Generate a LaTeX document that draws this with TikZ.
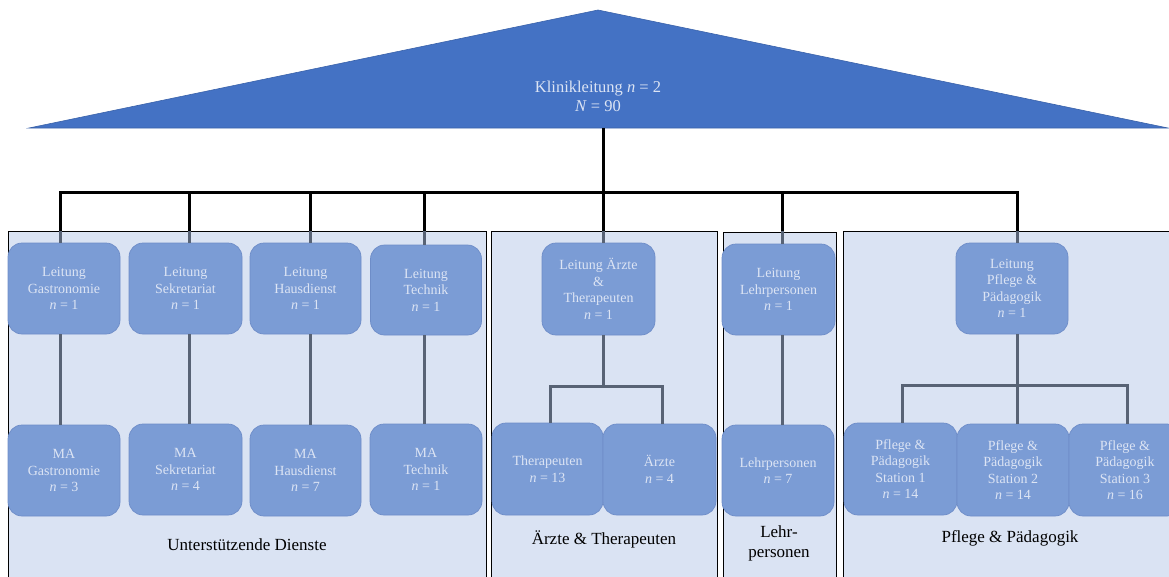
\documentclass[tikz,border=0pt]{standalone}
\usepackage{fontspec}
\setmainfont{Liberation Serif}
\definecolor{topfill}{HTML}{4472C4}
\definecolor{topline}{HTML}{3A62AA}
\definecolor{grpfill}{HTML}{DAE3F3}
\definecolor{boxfill}{HTML}{7B9CD5}
\definecolor{boxline}{HTML}{6E8DC8}
\definecolor{boxtext}{HTML}{DCE4F4}
\definecolor{linkgray}{HTML}{586375}
\newcommand{\nn}{\textit{n}}
\begin{document}
\begin{tikzpicture}[x=1pt,y=-1pt,
  group/.style={draw=black,fill=grpfill,line width=0.8pt},
  unit/.style={draw=boxline,fill=boxfill,rounded corners=14pt,text=boxtext,
    align=center,inner sep=0pt,line width=0.7pt,
    font=\fontsize{14}{16.5}\selectfont},
  grplabel/.style={align=center,font=\fontsize{17}{20}\selectfont},
  mainlink/.style={draw=black,line width=3pt},
  sublink/.style={draw=linkgray,line width=3pt}]
\useasboundingbox (0,0) rectangle (1169,576);

% head of the clinic
\fill[topfill,draw=topline,line width=0.6pt] (29,128) -- (598,10) -- (1168,128) -- cycle;
\node[text=boxtext,align=center,font=\fontsize{16.5}{19}\selectfont] (head) at (598,96)
  {Klinikleitung \nn{} = 2\\\textit{N} = 90};
\coordinate (headbase) at (603,128);

% department frames
\path[group] (8,231) rectangle (486,590);
\path[group] (491,231) rectangle (717,590);
\path[group] (723,232) rectangle (836,590);
\path[group] (843,231) rectangle (1175,590);
\coordinate (g1) at (0,231);

% first row: department heads
\node[unit,minimum width=112pt,minimum height=91pt] (lg) at (64,288.5) {Leitung\\Gastronomie\\\nn{} = 1};
\node[unit,minimum width=113pt,minimum height=91pt] (ls) at (185.5,288.5) {Leitung\\Sekretariat\\\nn{} = 1};
\node[unit,minimum width=111pt,minimum height=91pt] (lh) at (305.5,288.5) {Leitung\\Hausdienst\\\nn{} = 1};
\node[unit,minimum width=111pt,minimum height=90pt] (lt) at (426,290) {Leitung\\Technik\\\nn{} = 1};
\node[unit,minimum width=113pt,minimum height=92pt] (la) at (598.5,289) {Leitung Ärzte\\\&\\Therapeuten\\\nn{} = 1};
\node[unit,minimum width=113pt,minimum height=91pt] (ll) at (778.5,289.5) {Leitung\\Lehrpersonen\\\nn{} = 1};
\node[unit,minimum width=112pt,minimum height=91pt] (lp) at (1012,288.5) {Leitung\\Pflege \&\\Pädagogik\\\nn{} = 1};

% second row: staff
\node[unit,minimum width=112pt,minimum height=91pt] (mg) at (64,470.5) {MA\\Gastronomie\\\nn{} = 3};
\node[unit,minimum width=113pt,minimum height=91pt] (ms) at (185.5,469.5) {MA\\Sekretariat\\\nn{} = 4};
\node[unit,minimum width=111pt,minimum height=91pt] (mh) at (305.5,470.5) {MA\\Hausdienst\\\nn{} = 7};
\node[unit,minimum width=112pt,minimum height=91pt] (mt) at (426,469.5) {MA\\Technik\\\nn{} = 1};
\node[unit,minimum width=111pt,minimum height=92pt] (th) at (547.5,469) {Therapeuten\\\nn{} = 13};
\node[unit,minimum width=113pt,minimum height=91pt] (ae) at (659.5,469.5) {Ärzte\\\nn{} = 4};
\node[unit,minimum width=112pt,minimum height=91pt] (lr) at (778,470.5) {Lehrpersonen\\\nn{} = 7};
\node[unit,minimum width=113pt,minimum height=92pt] (p1) at (900.5,469) {Pflege \&\\Pädagogik\\Station 1\\\nn{} = 14};
\node[unit,minimum width=112pt,minimum height=92pt] (p2) at (1013,470) {Pflege \&\\Pädagogik\\Station 2\\\nn{} = 14};
\node[unit,minimum width=112pt,minimum height=92pt] (p3) at (1125,470) {Pflege \&\\Pädagogik\\Station 3\\\nn{} = 16};

% department captions
\node[grplabel] (cap1) at (247,545) {Unterstützende Dienste};
\node[grplabel] (cap2) at (604,539) {Ärzte \& Therapeuten};
\node[grplabel] (cap3) at (779,543) {Lehr-\\personen};
\node[grplabel] (cap4) at (1010,538) {Pflege \& Pädagogik};

% top level connectors
\coordinate (bar) at (0,192);
\draw[mainlink] (headbase) -- (bar -| headbase);
\draw[mainlink,line cap=rect] (bar -| 60,0) -- (bar -| 1017,0);
\foreach \n/\x in {lg/60,ls/189,lh/310,lt/424,la/603,ll/782,lp/1017}{
  \draw[mainlink] (bar -| \x,0) -- (g1 -| \x,0);
  \draw[sublink] (g1 -| \x,0) -- (\n.north -| \x,0);
}

% connectors within the departments
\foreach \a/\b/\x in {lg/mg/60,ls/ms/189,lh/mh/310,lt/mt/424,ll/lr/782}{
  \draw[sublink] (\a.south -| \x,0) -- (\b.north -| \x,0);
}
\coordinate (fork1) at (0,386);
\draw[sublink] (la.south -| 603,0) -- (fork1 -| 603,0);
\draw[sublink] (th.north -| 550,0) |- (fork1 -| 603,0) -| (ae.north -| 662,0);
\coordinate (fork2) at (0,385);
\draw[sublink] (lp.south -| 1017,0) -- (p2.north -| 1017,0);
\draw[sublink] (p1.north -| 902,0) |- (fork2 -| 1017,0) -| (p3.north -| 1127,0);
\end{tikzpicture}
\end{document}
